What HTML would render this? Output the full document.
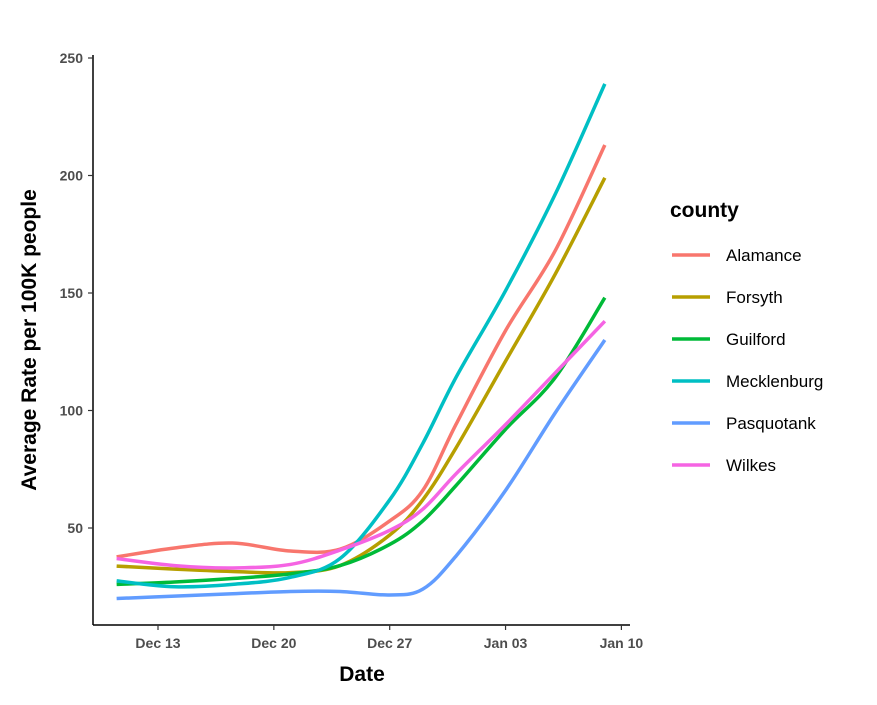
<!DOCTYPE html>
<html><head><meta charset="utf-8"><style>
body{margin:0;background:#fff}
svg{font-family:"Liberation Sans",sans-serif}
</style></head><body>
<svg width="877" height="700" id="c">
<g id="plot"></g>
</svg>
<script>
const days=[-2.5,1,4.5,8,11,14,16,18,21,24,27];
const alamance=[37.7,41.5,43.6,40.2,41,53,66,94,134,168,213];
const forsyth=[33.8,32.5,31.5,31,34,47,62,84,121,158,199];
const guilford=[26,27,28.5,30.5,34,43,53,68,92,114,148];
const mecklenburg=[27.5,25,26,29,37,62,86,114,151,192,239];
const pasquotank=[20,21,22,23,23,21.5,24,38,66,99,130];
const wilkes=[37,34,33,34.5,40.6,49,58,73,94,116,138];
const seriesNames=["Alamance","Forsyth","Guilford","Mecklenburg","Pasquotank","Wilkes"];
const seriesVals=[alamance,forsyth,guilford,mecklenburg,pasquotank,wilkes];
const colors=["#F8766D","#B79F00","#00BA38","#00BFC4","#619CFF","#F564E3"];
const xTickLabels=["Dec 13","Dec 20","Dec 27","Jan 03","Jan 10"];
const xTickDays=[0,7,14,21,28];
const yTicks=[50,100,150,200,250];

const NS="http://www.w3.org/2000/svg";
const svg=document.getElementById('plot');
const X=d=>158+d*16.55;
const Y=v=>528-(v-50)*2.35;
function mk(t,a,p){const e=document.createElementNS(NS,t);for(const k in a)e.setAttribute(k,a[k]);(p||svg).appendChild(e);return e;}

let ax=mk('line',{x1:93,y1:55,x2:93,y2:625,stroke:'#000','stroke-width':1.5});


let bx=mk('line',{x1:93,y1:625,x2:630,y2:625,stroke:'#000','stroke-width':1.5});



yTicks.forEach(v=>{
  mk('line',{x1:88,x2:93,y1:Y(v),y2:Y(v),stroke:'#333','stroke-width':1.2});
  const t=mk('text',{x:83,y:Y(v)+5,'text-anchor':'end','font-size':14,'font-weight':'bold',fill:'#4d4d4d'});
  t.textContent=v;
  
  
});
xTickDays.forEach((d,i)=>{
  mk('line',{x1:X(d),x2:X(d),y1:625,y2:630,stroke:'#333','stroke-width':1.2});
  const t=mk('text',{x:X(d),y:648,'text-anchor':'middle','font-size':14,'font-weight':'bold',fill:'#4d4d4d'});
  t.textContent=xTickLabels[i];
  
  
});

function pathFor(vals){
  const p=days.map((d,i)=>[X(d),Y(vals[i])]);
  let s=`M${p[0][0]},${p[0][1]}`;
  for(let i=0;i<p.length-1;i++){
    const p0=p[Math.max(0,i-1)],p1=p[i],p2=p[i+1],p3=p[Math.min(p.length-1,i+2)];
    const c1=[p1[0]+(p2[0]-p0[0])/6,p1[1]+(p2[1]-p0[1])/6];
    const c2=[p2[0]-(p3[0]-p1[0])/6,p2[1]-(p3[1]-p1[1])/6];
    s+=` C${c1[0]},${c1[1]} ${c2[0]},${c2[1]} ${p2[0]},${p2[1]}`;
  }
  return s;
}
seriesVals.forEach((vals,i)=>{
  const l=mk('path',{d:pathFor(vals),fill:'none',stroke:colors[i],'stroke-width':3.5});
  
  
});

let yt=mk('text',{x:0,y:0,transform:'translate(36,340) rotate(-90)','text-anchor':'middle','font-size':21,'font-weight':'bold',fill:'#000'});
yt.textContent='Average Rate per 100K people';


let xt=mk('text',{x:362,y:681,'text-anchor':'middle','font-size':21,'font-weight':'bold',fill:'#000'});
xt.textContent='Date';



let lt=mk('text',{x:670,y:217,'font-size':21,'font-weight':'bold',fill:'#000'});
lt.textContent='county';


seriesNames.forEach((n,i)=>{
  const y=255+i*42;
  const g=mk('g',{});
  
  
  mk('line',{x1:672,x2:710,y1:y,y2:y,stroke:colors[i],'stroke-width':3.5},g);
  const t=mk('text',{x:726,y:y+6,'font-size':17,fill:'#000'},g);
  t.textContent=n;
});
</script>
</body></html>
